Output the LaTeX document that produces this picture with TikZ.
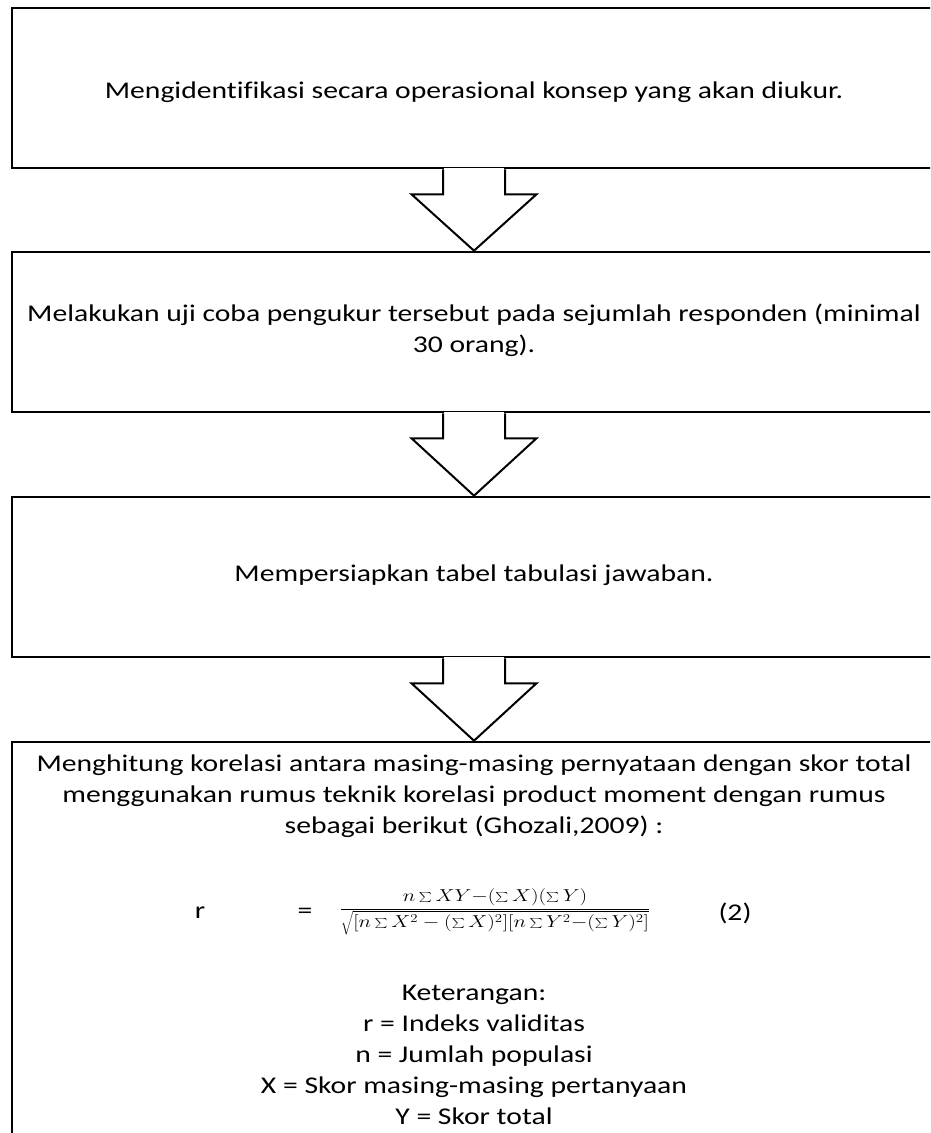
\documentclass[tikz,border=0pt]{standalone}
\usepackage{fontspec}
\usepackage{graphicx}
\setmainfont[FakeStretch=1.235,Ligatures=NoCommon]{Carlito}
\usetikzlibrary{calc}
\tikzset{
  box/.style={draw, line width=2.6pt, minimum width=924pt, inner sep=0pt, anchor=center},
  txt/.style={align=center, font=\fontsize{24}{31}\selectfont, inner sep=0pt},
  arrowline/.style={line width=2pt, line join=miter},
}
\newcommand\blockarrowdown[2]{%
  \fill[white] ($(#1.south)+(-30,1.6)$) rectangle ($(#1.south)+(30,-1.6)$);
  \draw[arrowline] ($(#1.south)+(-31,0)$) -- ++(0,-25) -- ++(-31.5,0)
     -- (#2.north) -- ($(#1.south)+(62.5,-25)$) -- ++(-31.5,0) -- ++(0,25);
}
\begin{document}
\begin{tikzpicture}[x=1pt,y=1pt]
\useasboundingbox (0,0) rectangle (930,-1133);
\clip (0,0) rectangle (930,-1133);
\node[box, minimum height=160pt] (b1) at (474,-88) {};
\node[box, minimum height=160pt] (b2) at (474,-332) {};
\node[box, minimum height=160pt] (b3) at (474,-577) {};
\node[box, minimum height=404pt] (b4) at (474,-944) {};
\node[txt] (t1) at (474,-92) {Mengidentifikasi secara operasional konsep yang akan diukur.};
\node[txt] (t2) at (474,-330) {Melakukan uji coba pengukur tersebut pada sejumlah responden (minimal\\30 orang).};
\node[txt] (t3) at (474,-575) {Mempersiapkan tabel tabulasi jawaban.};
\node[txt] (t4) at (474,-796) {Menghitung korelasi antara masing-masing pernyataan dengan skor total\\menggunakan rumus teknik korelasi product moment dengan rumus\\sebagai berikut (Ghozali,2009) :};
\node[txt] (fr) at (200,-913) {r};
\node[txt] (feq) at (305,-913) {=};
\node[inner sep=0pt, font=\fontsize{16.5}{19}\selectfont] (ff) at (495,-912)
  {\scalebox{1.235}[1]{$\displaystyle\frac{\textstyle n\sum XY{-}(\sum X)(\sum Y)\rule[-5pt]{0pt}{1pt}}{\textstyle\sqrt{[n\sum X^2-(\sum X)^2][n\sum Y^2{-}(\sum Y)^2]}}$}};
\node[txt] (fn) at (735,-913) {(2)};
\node[txt] (t5) at (474,-1055) {Keterangan:\\r = Indeks validitas\\n = Jumlah populasi\\X = Skor masing-masing pertanyaan\\Y = Skor total};
\blockarrowdown{b1}{b2}
\blockarrowdown{b2}{b3}
\blockarrowdown{b3}{b4}
\end{tikzpicture}
\end{document}
